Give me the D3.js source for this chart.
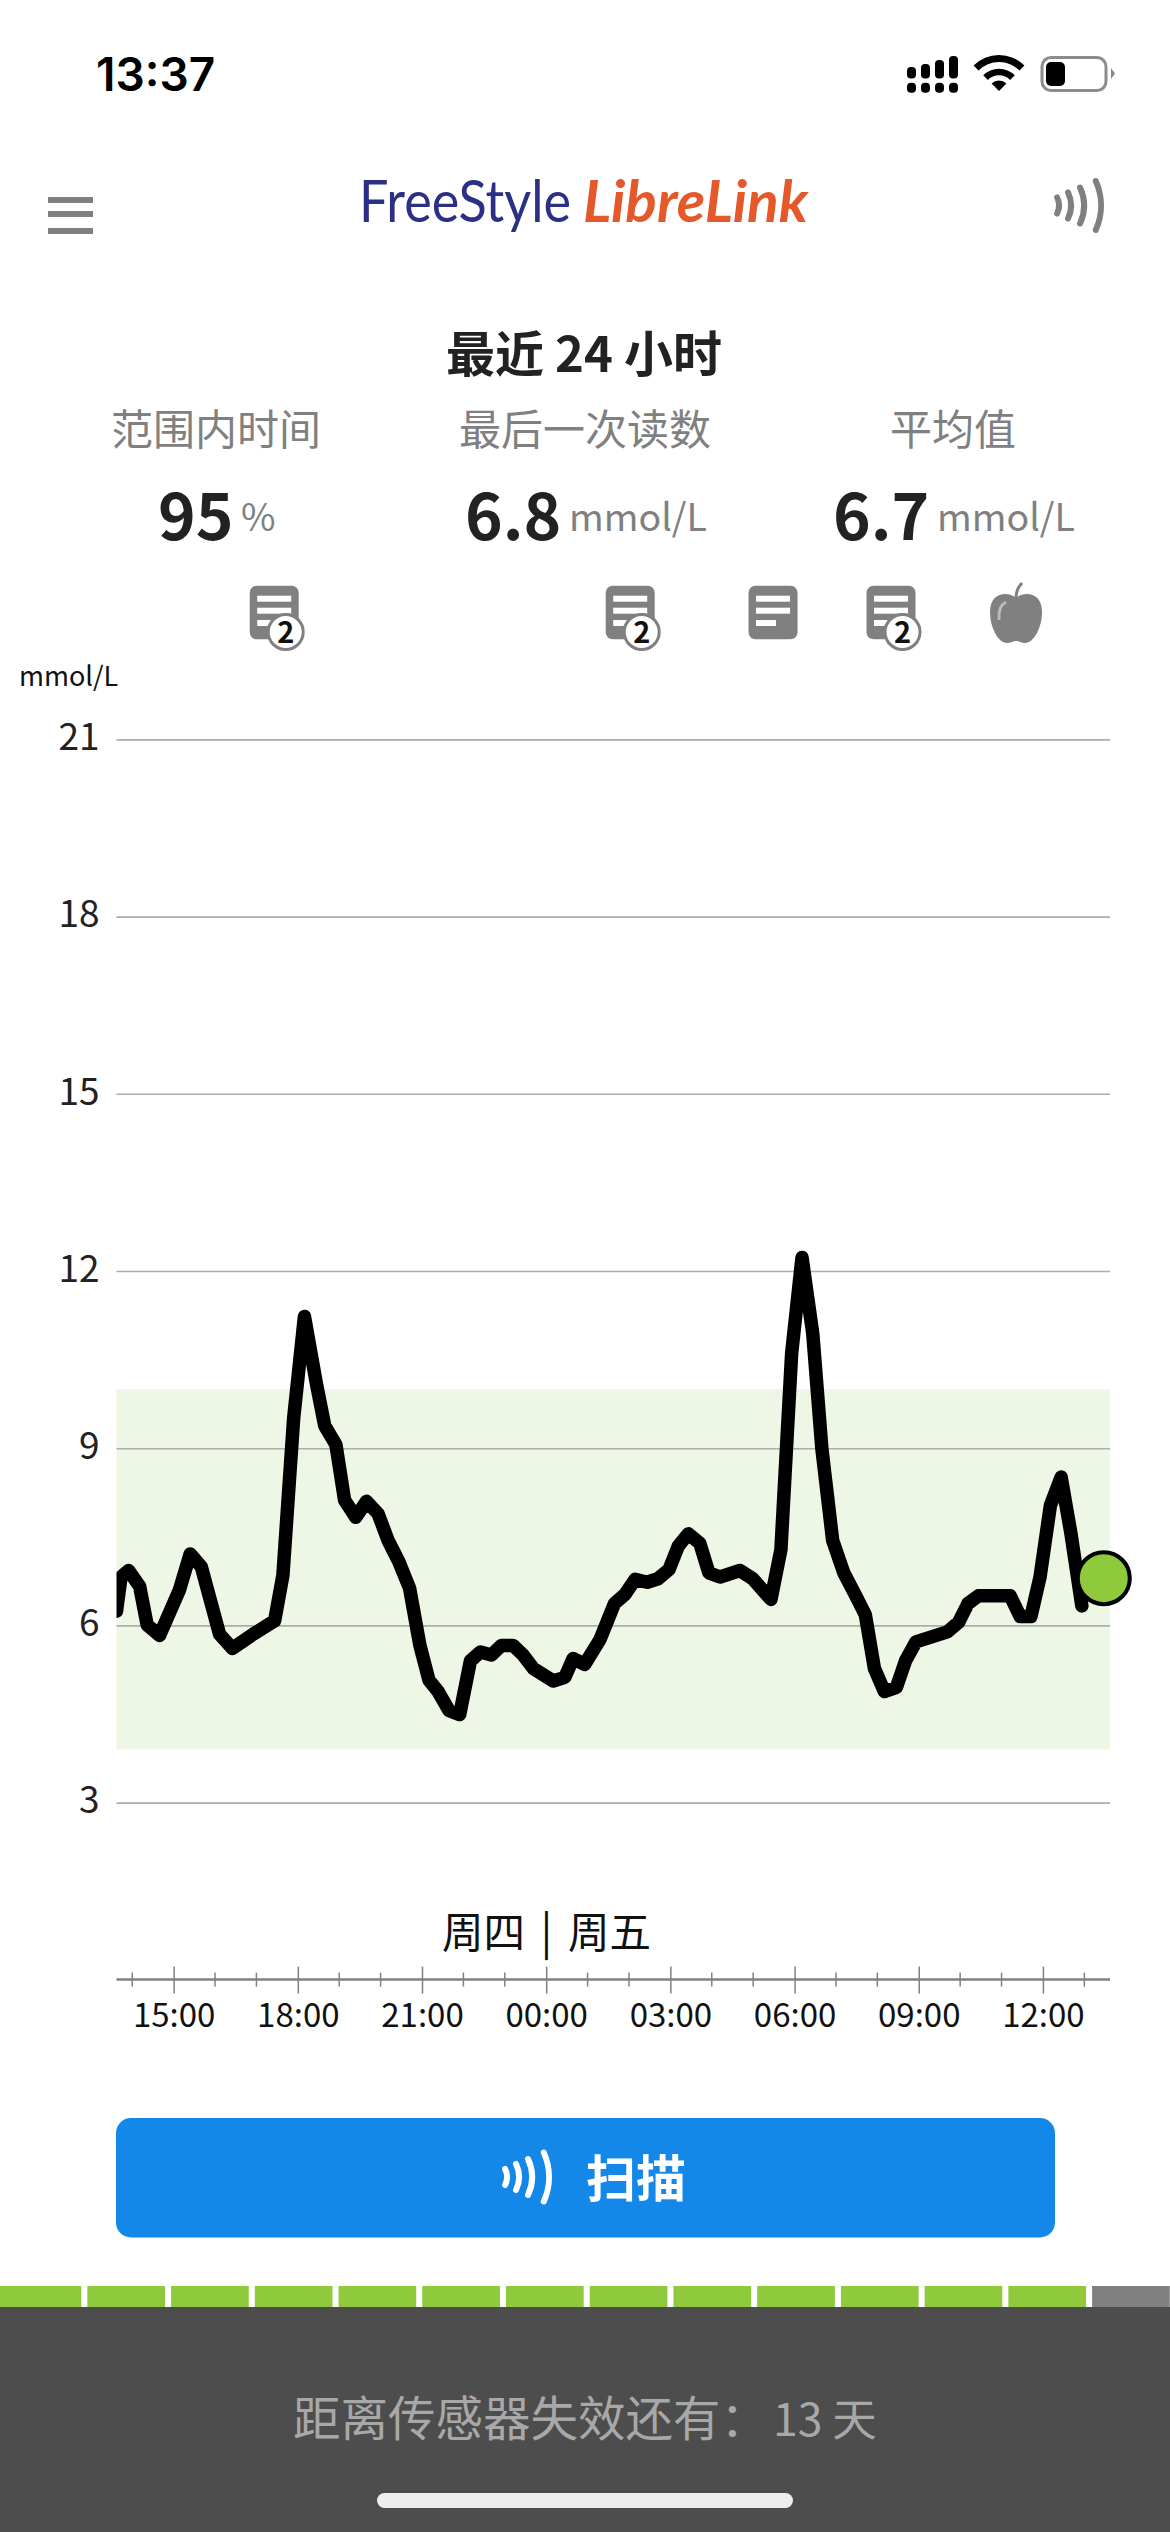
<!DOCTYPE html>
<html lang="zh">
<head>
<meta charset="utf-8">
<script src="https://cdn.jsdelivr.net/npm/d3@7"></script>
<style>
html,body{margin:0;padding:0;background:#fff}
svg{display:block}
text{font-family:"Noto Sans CJK SC","Noto Sans",sans-serif}
</style>
</head>
<body>
<svg id="c" width="1170" height="2532" viewBox="0 0 1170 2532"></svg>
<script>
// hours counted from Thursday 00:00 (24 = Friday 00:00)
const hours = [13.62,13.73,13.91,14.18,14.36,14.66,15.14,15.40,15.67,16.11,16.42,16.92,17.44,17.64,17.90,18.16,18.45,18.65,18.92,19.13,19.40,19.66,19.94,20.18,20.44,20.70,20.95,21.17,21.39,21.65,21.91,22.17,22.41,22.68,22.92,23.20,23.44,23.69,24.17,24.45,24.65,24.93,25.30,25.65,25.91,26.15,26.44,26.70,26.97,27.19,27.43,27.71,27.93,28.20,28.68,28.99,29.43,29.67,29.93,30.18,30.44,30.66,30.92,31.19,31.48,31.71,31.93,32.17,32.46,32.68,32.93,33.69,33.96,34.19,34.44,35.21,35.45,35.71,35.93,36.18,36.44,36.68,36.94];
const glucose = [6.24,6.82,6.93,6.66,6.01,5.83,6.60,7.21,6.99,5.85,5.61,5.85,6.08,6.85,9.51,11.23,10.09,9.38,9.06,8.12,7.83,8.10,7.89,7.44,7.08,6.63,5.66,5.07,4.88,4.56,4.49,5.40,5.55,5.50,5.66,5.66,5.50,5.27,5.06,5.12,5.44,5.34,5.76,6.37,6.53,6.78,6.73,6.79,6.95,7.34,7.55,7.39,6.89,6.82,6.93,6.79,6.44,7.28,10.61,12.23,10.94,8.99,7.44,6.89,6.50,6.18,5.27,4.88,4.95,5.40,5.72,5.89,6.05,6.37,6.50,6.50,6.15,6.15,6.82,8.03,8.51,7.54,6.33];
const currentHour = 37.47, currentValue = 6.8;
const yTicks = [3,6,9,12,15,18,21];
const xMajor = [15,18,21,24,27,30,33,36];
const xMinor = [14,16,17,19,20,22,23,25,26,28,29,31,32,34,35,37];
const xLabels = ["15:00","18:00","21:00","00:00","03:00","06:00","09:00","12:00"];
const targetRange = [3.9,10];
const noteHours = [17.43,26.03,29.48,32.33];
const noteCounts = [2,2,1,2];
const foodHours = [35.35];
const sensorDays = d3.range(14);
const sensorUsed = 13;
const stats = [
  {label:"范围内时间", value:"95", unit:"%"},
  {label:"最后一次读数", value:"6.8", unit:"mmol/L"},
  {label:"平均值", value:"6.7", unit:"mmol/L"}
];

const svg = d3.select("#c");
const GREY = "#808080", GREEN = "#8fc93c";
const x = d3.scaleLinear().domain([13.62,37.62]).range([116.5,1110]);
const y = d3.scaleLinear().domain([3,21]).range([1802.6,739.4]);

function t(txt,px,py,size,fill,opts={}){
  const n = svg.append("text").attr("x",px).attr("y",py).attr("font-size",size).attr("fill",fill)
    .attr("text-anchor",opts.anchor||"start").attr("font-weight",opts.weight||400).text(txt);
  if(opts.family) n.style("font-family",opts.family);
  if(opts.italic) n.attr("font-style","italic");
  if(opts.len) n.attr("textLength",opts.len).attr("lengthAdjust","spacingAndGlyphs");
  return n;
}
function nfc(x0,cy,color,sw){
  [[18,8],[30,13],[43,18],[60,24.5]].forEach(([r,h])=>{
    const dx=Math.sqrt(r*r-h*h);
    svg.append("path").attr("d",`M${x0+dx-r+3} ${cy-h}A${r} ${r} 0 0 1 ${x0+dx-r+3} ${cy+h}`)
      .attr("transform",`translate(${r-18},0)`).attr("fill","none").attr("stroke",color)
      .attr("stroke-width",sw).attr("stroke-linecap","round");
  });
}

// status bar
t("13:37",96,91,46,"#000",{weight:600,family:"Inter"});
[[907,67],[921,64],[935,60],[949,56]].forEach(([px,top])=>{
  svg.append("rect").attr("x",px).attr("y",top).attr("width",9).attr("height",78.5-top).attr("rx",4).attr("fill","#000");
  svg.append("rect").attr("x",px).attr("y",82.7).attr("width",9).attr("height",10).attr("rx",4).attr("fill","#000");
});
[[29,36],[15.7,22.3],[0,10.5]].forEach(([r0,r1])=>{
  svg.append("path").attr("d",d3.arc()({innerRadius:r0,outerRadius:r1,startAngle:-Math.PI/4,endAngle:Math.PI/4})).attr("transform","translate(999,91)").attr("fill","#000");
});
svg.append("rect").attr("x",1042).attr("y",57.5).attr("width",64).attr("height",33).attr("rx",9).attr("fill","none").attr("stroke","#8c8c8c").attr("stroke-width",3);
svg.append("rect").attr("x",1046).attr("y",62).attr("width",19).attr("height",24).attr("rx",5).attr("fill","#000");
svg.append("path").attr("d","M1111 68L1115 73.5L1111 79Z").attr("fill","#888");

// header
[197,211,228].forEach(py=>svg.append("rect").attr("x",48).attr("y",py).attr("width",45).attr("height",6).attr("fill",GREY));
t("FreeStyle",359,221.7,58,"#2b2f85",{family:"Lato",len:212});
t("LibreLink",583,221.7,57,"#e4582a",{family:"Lato",italic:true,weight:700,len:225});
nfc(1056,205.5,GREY,6);

// title and stats
t("最近 24 小时",584,372,49,"#222",{anchor:"middle",weight:700});
const labelX=[216,585,953], valueX=[158,465,833], unitX=[241,569,937];
stats.forEach((s,i)=>{
  t(s.label,labelX[i],445,42,GREY,{anchor:"middle"});
  t(s.value,valueX[i],540,64,"#222",{weight:600});
  t(s.unit,unitX[i],531,37.5,GREY);
});

// note and food icons
noteHours.forEach((h,i)=>{
  const cx=x(h);
  svg.append("rect").attr("x",cx-24.5).attr("y",585.7).attr("width",49).attr("height",53.5).attr("rx",7).attr("fill",GREY);
  [[595.7,34],[607.7,34],[620,noteCounts[i]>1?34:20]].forEach(([py,w])=>svg.append("rect").attr("x",cx-17).attr("y",py).attr("width",w).attr("height",6).attr("fill","#fff"));
  if(noteCounts[i]>1){
    svg.append("circle").attr("cx",cx+11.5).attr("cy",632).attr("r",17.5).attr("fill","#fff").attr("stroke",GREY).attr("stroke-width",3);
    t(noteCounts[i],cx+11.5,642.5,29,"#111",{anchor:"middle",weight:700});
  }
});
foodHours.forEach(h=>{
  const cx=x(h);
  const g=svg.append("g").attr("transform",`translate(${cx},0)`);
  g.append("path").attr("d","M0 598C-8 591 -26 592 -26 612C-26 627 -18 643 -9 643C-5 643 -3 641 0 641C3 641 5 643 9 643C18 643 26 627 26 612C26 592 8 591 0 598Z").attr("fill",GREY);
  g.append("path").attr("d","M0 598C0 592 2 587 6 583").attr("fill","none").attr("stroke",GREY).attr("stroke-width",3);
  g.append("path").attr("d","M-17 620Q-18 606 -10 602").attr("fill","none").attr("stroke","#bbb").attr("stroke-width",3);
});

// chart
t("mmol/L",19,686,27,"#111");
svg.append("rect").attr("x",x.range()[0]).attr("width",x.range()[1]-x.range()[0])
  .attr("y",y(targetRange[1])).attr("height",y(targetRange[0])-y(targetRange[1])).attr("fill","#eef6e6");
const yAxis = svg.append("g").attr("transform",`translate(${x.range()[0]},0)`)
  .call(d3.axisLeft(y).tickValues(yTicks).tickSize(-(x.range()[1]-x.range()[0])).tickPadding(17));
yAxis.select(".domain").remove();
yAxis.selectAll("line").attr("stroke","#adadad").attr("stroke-width",1.6);
yAxis.selectAll("text").attr("font-size",37).attr("fill","#222").attr("dy","0.28em").style("font-family",'"Noto Sans CJK SC"');

svg.append("clipPath").attr("id","plot").append("rect").attr("x",x.range()[0]).attr("y",600).attr("width",1100).attr("height",1300);
const pts = hours.map((h,i)=>[h,glucose[i]]);
svg.append("path").datum(pts).attr("clip-path","url(#plot)")
  .attr("d",d3.line().x(d=>x(d[0])).y(d=>y(d[1])))
  .attr("fill","none").attr("stroke","#000").attr("stroke-width",13.5).attr("stroke-linejoin","round").attr("stroke-linecap","round");
svg.append("circle").attr("cx",x(currentHour)).attr("cy",y(currentValue)).attr("r",26).attr("fill",GREEN).attr("stroke","#000").attr("stroke-width",4);

// time axis
t("周四",525,1948,41.5,"#111",{anchor:"end"});
t("|",546.5,1948,44,"#111",{anchor:"middle"});
t("周五",568,1948,41.5,"#111");
const axisY=1979.6;
svg.append("line").attr("x1",x.range()[0]).attr("x2",x.range()[1]).attr("y1",axisY).attr("y2",axisY).attr("stroke",GREY).attr("stroke-width",2.5);
const xAxis = svg.append("g").attr("transform",`translate(0,${axisY})`)
  .call(d3.axisBottom(x).tickValues(xMajor).tickFormat((d,i)=>xLabels[i]).tickSize(14).tickPadding(10));
xAxis.select(".domain").remove();
xAxis.selectAll("line").attr("stroke",GREY).attr("stroke-width",1.5).attr("y1",-13);
xAxis.selectAll("text").attr("font-size",33).attr("fill","#111").style("font-family",'"Noto Sans CJK SC"');
svg.append("g").selectAll("line").data(xMinor).join("line")
  .attr("x1",x).attr("x2",x).attr("y1",axisY-7).attr("y2",axisY+7).attr("stroke",GREY).attr("stroke-width",1.5);

// scan button
svg.append("rect").attr("x",116).attr("y",2118).attr("width",939).attr("height",119.5).attr("rx",15).attr("fill","#1488e8");
nfc(504,2177,"#fff",6);
t("扫描",586,2197,50,"#fff",{weight:700});

// sensor life
svg.append("rect").attr("x",0).attr("y",2307).attr("width",1170).attr("height",225).attr("fill","#4d4d4d");
const band = d3.scaleBand().domain(sensorDays).range([3.6,1169.8]).paddingInner(0.072).paddingOuter(0);
svg.append("g").selectAll("rect").data(sensorDays).join("rect")
  .attr("x",d=>d===0?0:band(d)).attr("y",2286).attr("width",d=>d===0?band.bandwidth()+3.6:band.bandwidth()).attr("height",21)
  .attr("fill",d=>d<sensorUsed?GREEN:GREY);
t("距离传感器失效还有：",293,2436,47.5,"#a8a8a8");
t("13 天",773,2436,44.5,"#a8a8a8");
svg.append("rect").attr("x",377).attr("y",2493).attr("width",416).attr("height",15).attr("rx",7.5).attr("fill","#eeeeee");
</script>
</body>
</html>
